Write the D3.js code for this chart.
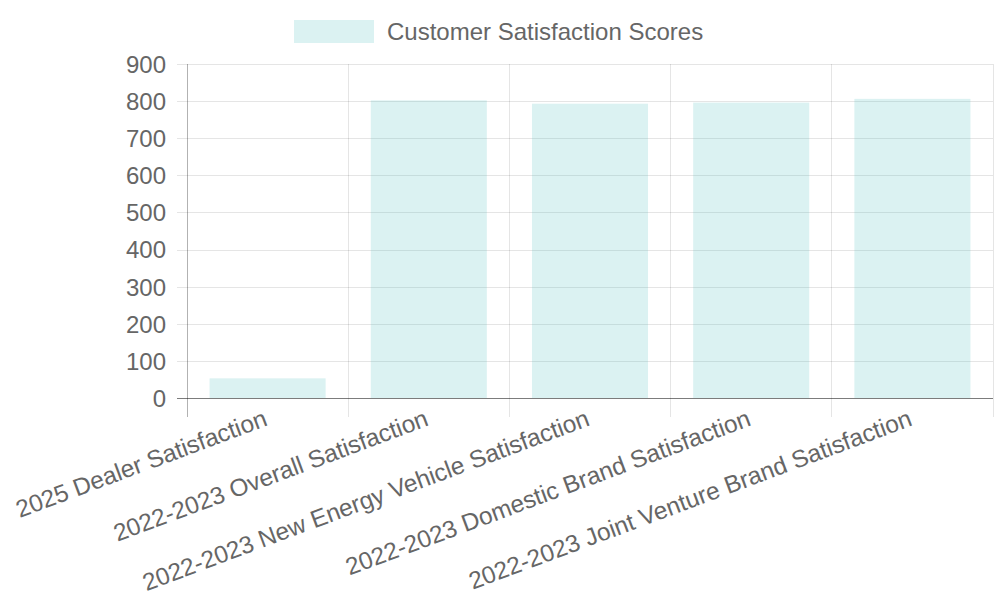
<!DOCTYPE html>
<html>
<head>
<meta charset="utf-8">
<script src="https://cdn.jsdelivr.net/npm/d3@7"></script>
<style>
  html, body { margin: 0; padding: 0; background: #fff; }
  svg { display: block; }
  text { font-family: "Liberation Sans", Arial, sans-serif; fill: #666; }
</style>
</head>
<body>
<svg id="chart" width="1000" height="600"></svg>
<script>
const categories = [
  "2025 Dealer Satisfaction",
  "2022-2023 Overall Satisfaction",
  "2022-2023 New Energy Vehicle Satisfaction",
  "2022-2023 Domestic Brand Satisfaction",
  "2022-2023 Joint Venture Brand Satisfaction"
];
const scores = [53, 802, 793, 796, 806];
const yTicks = [0, 100, 200, 300, 400, 500, 600, 700, 800, 900];
const seriesName = "Customer Satisfaction Scores";

const svg = d3.select("#chart");
const plotL = 187, plotR = 993, plotT = 64, plotB = 398;
const fontSize = 24;

const x = d3.scaleBand().domain(categories).range([plotL, plotR]).paddingInner(0).paddingOuter(0);
const y = d3.scaleLinear().domain([0, 900]).range([plotB, plotT]);

const gridColor = "rgba(0,0,0,0.1)";
const axisColor = "rgba(0,0,0,0.3)";

// horizontal grid
const yAxis = d3.axisLeft(y).tickValues(yTicks).tickSize(-(plotR - plotL)).tickSizeOuter(0).tickPadding(0);
const gy = svg.append("g").attr("transform", `translate(${plotL},0)`).call(yAxis);
gy.select(".domain").remove();
gy.selectAll(".tick line").attr("stroke", d => d === 0 ? axisColor : gridColor).attr("x1", -10)
  .attr("shape-rendering", "crispEdges");
gy.selectAll(".tick text").attr("x", -21).attr("font-size", fontSize).style("fill", "#666")
  .style("font-family", "'Liberation Sans', Arial, sans-serif").attr("dy", "0.35em");

// vertical grid lines at category boundaries
const bounds = categories.map(c => x(c)).concat([x(categories[categories.length - 1]) + x.bandwidth()]);
svg.append("g").selectAll("line").data(bounds).join("line")
  .attr("x1", d => d).attr("x2", d => d)
  .attr("y1", plotT).attr("y2", plotB + 19)
  .attr("stroke", (d, i) => i === 0 ? axisColor : gridColor)
  .attr("stroke-width", 1)
  .attr("shape-rendering", "crispEdges");

// bars
const barW = x.bandwidth() * 0.72;
svg.append("g").selectAll("rect").data(scores).join("rect")
  .attr("x", (d, i) => x(categories[i]) + (x.bandwidth() - barW) / 2)
  .attr("width", barW)
  .attr("y", d => y(d))
  .attr("height", d => y(0) - y(d))
  .attr("fill", "rgba(75,192,192,0.2)");

// zero line over bars
svg.append("line").attr("x1", plotL - 10).attr("x2", plotR).attr("y1", y(0)).attr("y2", y(0))
  .attr("stroke", axisColor).attr("shape-rendering", "crispEdges");

// x labels
const angle = -20.5;
svg.append("g").selectAll("text").data(categories).join("text")
  .attr("transform", d => `translate(${x(d) + x.bandwidth() / 2 + 1},${plotB + 27}) rotate(${angle})`)
  .attr("text-anchor", "end")
  .attr("font-size", 24.4)
  .text(d => d);

// legend
const lg = svg.append("g");
lg.append("rect").attr("x", 294).attr("y", 20).attr("width", 80).attr("height", 23)
  .attr("fill", "rgba(75,192,192,0.2)");
lg.append("text").attr("x", 387).attr("y", 31.5).attr("dy", "0.35em").attr("font-size", fontSize).text(seriesName);
</script>
</body>
</html>
